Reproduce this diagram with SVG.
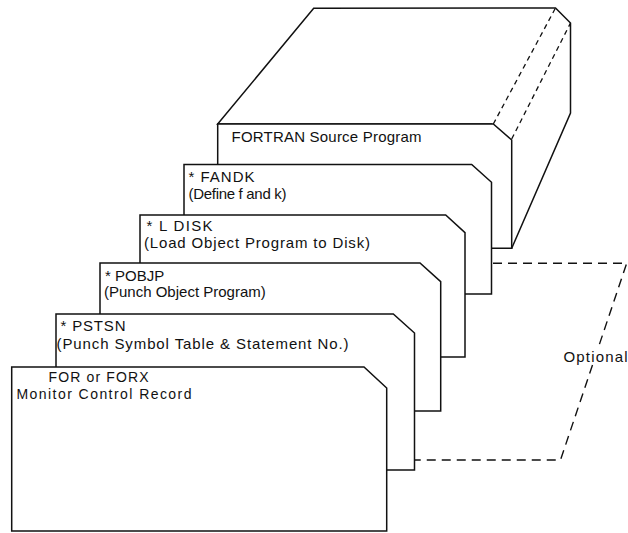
<svg xmlns="http://www.w3.org/2000/svg" width="628" height="533" viewBox="0 0 628 533">
<style>
  .edge { fill: #ffffff; stroke: #111111; stroke-width: 1.5; stroke-linejoin: miter; }
  .hid { fill: none; stroke: #111111; stroke-width: 1.3; stroke-dasharray: 5 4; }
  .opt { fill: none; stroke: #111111; stroke-width: 1.4; stroke-dasharray: 9 6; }
  .lbl { font-family: "Liberation Sans", Arial, sans-serif; font-size: 15px; fill: #111111; }
  .sm { font-size: 14px; }
</style>
<rect x="0" y="0" width="628" height="533" fill="#ffffff"/>

<g id="deck-box">
  <path class="edge" d="M217.7,124 L313.7,8.3 L555.5,8 L570.5,23 L570.5,113 L511.7,248.3 L491.5,248.3 L491.5,124 Z"/>
  <line class="hid" x1="493.3" y1="124" x2="555.5" y2="8"/>
  <line class="hid" x1="511.7" y1="139" x2="570.5" y2="23"/>
</g>

<g id="card-fortran">
  <path class="edge" d="M217.7,124 L493.3,124 L511.7,140 L511.7,248.3 L217.7,248.3 Z"/>
  <text class="lbl" x="231.5" y="141.5" textLength="190">FORTRAN Source Program</text>
</g>

<g id="card-fandk">
  <path class="edge" d="M184,164.5 L471.7,164.5 L491.5,182.3 L491.5,294 L184,294 Z"/>
  <text class="lbl" x="188.5" y="181.5" textLength="66">* FANDK</text>
  <text class="lbl" x="188.5" y="199" textLength="98">(Define f and k)</text>
</g>

<g id="card-ldisk">
  <path class="edge" d="M140,215 L445.7,215 L465,232.7 L465,357 L140,357 Z"/>
  <text class="lbl" x="146.5" y="231" textLength="66">* L DISK</text>
  <text class="lbl" x="144" y="248" textLength="226">(Load Object Program to Disk)</text>
</g>

<g id="card-pobjp">
  <path class="edge" d="M100,263 L420,263 L440.7,281.7 L440.7,411 L100,411 Z"/>
  <text class="lbl" x="105" y="280.5">* POBJP</text>
  <text class="lbl" x="104" y="296.5">(Punch Object Program)</text>
</g>

<g id="card-pstsn">
  <path class="edge" d="M56,314 L393.3,314 L414.5,333 L414.5,470 L56,470 Z"/>
  <text class="lbl" x="60.5" y="331" textLength="65">* PSTSN</text>
  <text class="lbl" x="56.5" y="349" textLength="292">(Punch Symbol Table &amp; Statement No.)</text>
</g>

<g id="card-for">
  <path class="edge" d="M11.7,367 L364,367 L386.7,388 L386.7,531 L11.7,531 Z"/>
  <text class="lbl sm" x="48.5" y="382" textLength="100">FOR or FORX</text>
  <text class="lbl sm" x="16.5" y="398.5" textLength="175">Monitor Control Record</text>
</g>

<g id="connectors">
  <polyline class="opt" points="493,263.3 626.7,263.3 598.5,347"/>
  <polyline class="opt" points="592.5,365 560.5,460 414.5,460"/>
</g>

<g id="label-optional">
  <text class="lbl" x="563.5" y="362" textLength="64">Optional</text>
</g>
</svg>
